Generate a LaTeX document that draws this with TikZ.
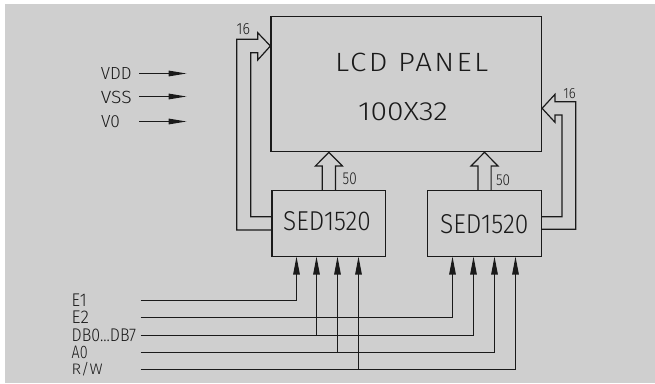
\documentclass[tikz,border=0pt]{standalone}
\usepackage{fontspec}
\usepackage{graphicx}
\IfFontExistsTF{Fira Sans Light}{\setmainfont{Fira Sans Light}}{\setmainfont{Liberation Sans}}
\usetikzlibrary{arrows.meta}
\definecolor{bg}{HTML}{CFCFCF}
\definecolor{ink}{HTML}{1A1A1A}
\newcommand\fitt[3]{\resizebox{#1pt}{#2pt}{#3}}
\begin{document}
\begin{tikzpicture}[x=1pt,y=-1pt,
  box/.style={draw=ink,line width=1.2pt,inner sep=0pt},
  lbl/.style={inner sep=0pt,anchor=center,text=ink},
  wire/.style={draw=ink,line width=1.2pt},
  sig/.style={wire,-{Triangle[length=18pt,width=6.5pt]}},
  pwr/.style={wire,-{Triangle[length=18pt,width=5.5pt]}},
  bus/.style={wire,line join=miter}]
\useasboundingbox (0,0) rectangle (655,383);
\fill[bg] (5,4) rectangle (655,383);
% boxes
\node[box,minimum width=270.5pt,minimum height=135pt] (lcd) at (406.25,84.2) {};
\node[box,minimum width=113.8pt,minimum height=65.8pt] (sed1) at (328.9,223.6) {};
\node[box,minimum width=114pt,minimum height=65.8pt] (sed2) at (484.5,223.6) {};
% texts
\node[lbl] (tlcd) at (411.7,62.5) {\fitt{153}{18.4}{\addfontfeatures{LetterSpace=8}LCD PANEL}};
\node[lbl] (tres) at (403,112) {\fitt{89.7}{18}{100X32}};
\node[lbl] (tsed1) at (327,221.2) {\fitt{87.7}{19}{SED1520}};
\node[lbl] (tsed2) at (484.2,224.2) {\fitt{88.3}{19}{SED1520}};
\node[lbl] (n50a) at (349.7,179.2) {\fitt{14}{11.7}{50}};
\node[lbl] (n50b) at (503,180.3) {\fitt{14}{10.7}{50}};
\node[lbl] (n16a) at (243.3,29.5) {\fitt{13.3}{11}{16}};
\node[lbl] (n16b) at (569.5,93.3) {\fitt{12.4}{10}{16}};
% power labels
\node[lbl] (lvdd) at (116.3,73.3) {\fitt{30.7}{12}{VDD}};
\node[lbl] (lvss) at (116.3,97.2) {\fitt{30.7}{12.3}{VSS}};
\node[lbl] (lv0) at (110.5,121.7) {\fitt{19}{12}{V0}};
\coordinate (vdda) at (139.3,73.5);  \coordinate (vddb) at (186.7,73.5);
\coordinate (vssa) at (139.3,96.5);  \coordinate (vssb) at (186.7,96.5);
\coordinate (v0a) at (139.3,121.5);  \coordinate (v0b) at (186.7,121.5);
\draw[pwr] (vdda) -- (vddb);
\draw[pwr] (vssa) -- (vssb);
\draw[pwr] (v0a) -- (v0b);
% signal labels
\node[lbl] (le1) at (79.2,300) {\fitt{15}{12.6}{E1}};
\node[lbl] (le2) at (80.4,317.5) {\fitt{17.3}{12.6}{E2}};
\node[lbl] (ldb) at (103.9,335.2) {\fitt{64.3}{12.6}{DB0...DB7}};
\node[lbl] (la0) at (79.7,352.6) {\fitt{16}{12.4}{A0}};
\node[lbl] (lrw) at (87.2,369.5) {\fitt{31}{12.2}{R/W}};
% signal lines
\coordinate (s1) at (140.7,300.5);
\coordinate (s2) at (140.7,317.5);
\coordinate (s3) at (140.7,335.5);
\coordinate (s4) at (140.7,352.5);
\coordinate (s5) at (140.7,369.5);
\coordinate (a1) at (296.5,256.5);
\coordinate (a2) at (316.5,256.5);
\coordinate (a3) at (337.5,256.5);
\coordinate (a4) at (358.5,256.5);
\coordinate (b1) at (452.5,256.5);
\coordinate (b2) at (473.5,256.5);
\coordinate (b3) at (494.5,256.5);
\coordinate (b4) at (515.5,256.5);
\draw[sig] (s1) -| (a1);
\draw[sig] (s2) -| (b1);
\draw[sig] (s3) -| (b2);
\draw[sig] (a2 |- s3) -- (a2);
\draw[sig] (s4) -| (b3);
\draw[sig] (a3 |- s4) -- (a3);
\draw[sig] (s5) -| (b4);
\draw[sig] (a4 |- s5) -- (a4);
% 16-bit buses to panel
\draw[bus] ([yshift=-6.4pt]sed1.west) -| (236.7,39.3) -- (257.7,39.3) -- (257.7,32.7)
  -- ([yshift=38.2pt]lcd.west) -- (257.7,60) -- (257.7,52.7) -- (250.7,52.7)
  |- ([yshift=6.9pt]sed1.west);
\draw[bus] ([yshift=-5.7pt]sed2.east) -| (575.7,101.7) -- (555,101.7) -- (555,94.3)
  -- ([yshift=-24.1pt]lcd.east) -- (555,122.3) -- (555,115) -- (562,115)
  |- ([yshift=6.9pt]sed2.east);
% 50-bit buses up
\draw[bus] ([xshift=-6.6pt]sed1.north) -- (322.3,166) -- (315.4,166)
  -- (sed1.north |- lcd.south) -- (342.4,166) -- (335.5,166) -- ([xshift=6.6pt]sed1.north);
\draw[bus] ([xshift=-6.6pt]sed2.north) -- (477.9,166) -- (471,166)
  -- (sed2.north |- lcd.south) -- (498,166) -- (491.1,166) -- ([xshift=6.6pt]sed2.north);
\end{tikzpicture}
\end{document}
